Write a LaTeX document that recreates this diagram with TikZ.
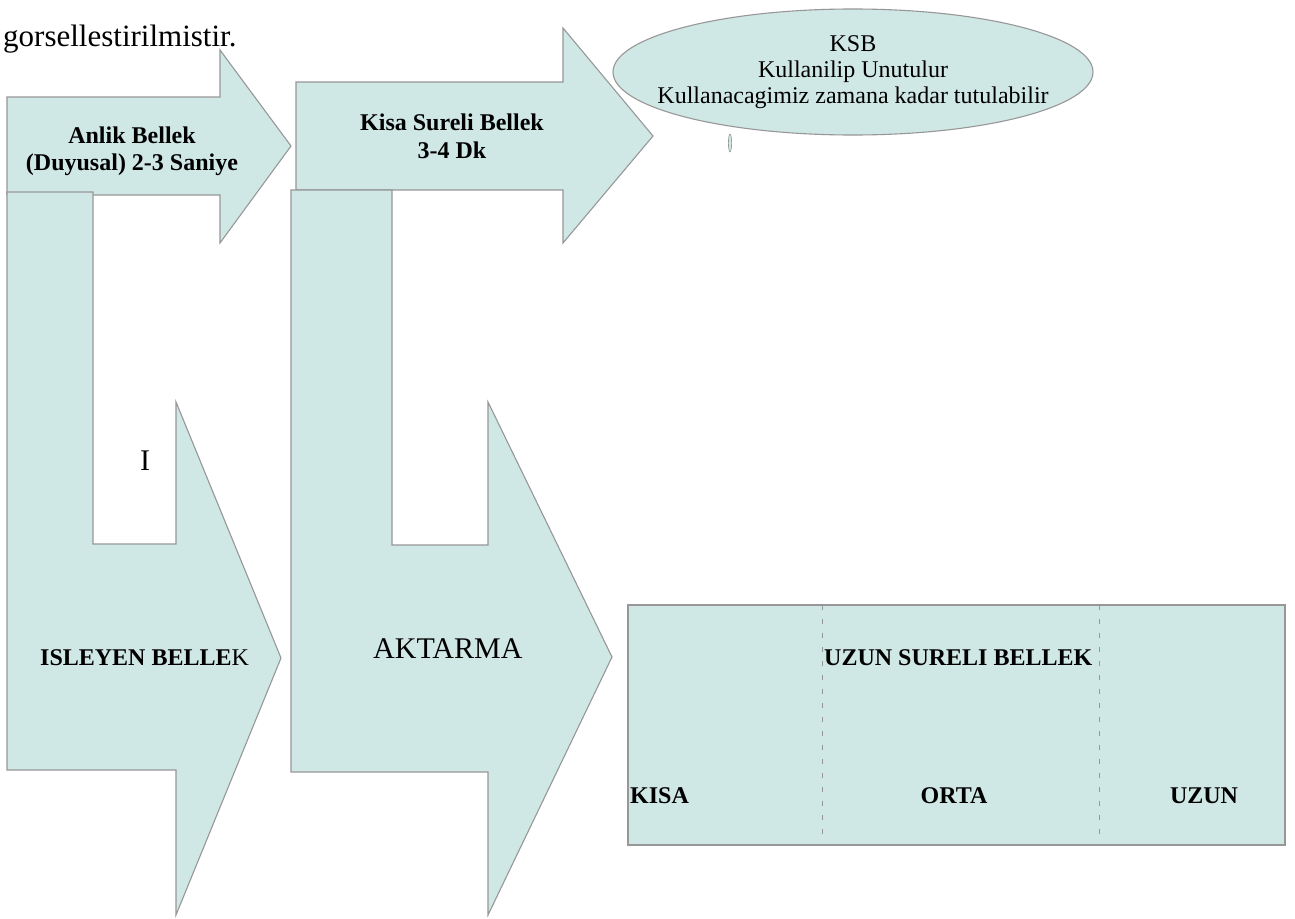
\documentclass[tikz,border=0pt]{standalone}
\usepackage{fontspec}
\setmainfont{Liberation Serif}
\definecolor{shapefill}{HTML}{D0E8E5}
\definecolor{shapeline}{HTML}{979797}
\begin{document}
\begin{tikzpicture}[x=1pt,y=-1pt,
  shapebox/.style={fill=shapefill,draw=shapeline,line width=1.1pt,line join=miter},
  divider/.style={draw=shapeline,line width=1pt,dash pattern=on 5pt off 9pt},
  txt/.style={inner sep=0pt,font=\fontsize{24}{28}\selectfont},
  btxt/.style={inner sep=0pt,font=\fontsize{24}{28}\selectfont\bfseries},
  bigtxt/.style={inner sep=0pt,font=\fontsize{30}{34}\selectfont}]
\useasboundingbox (0,0) rectangle (1295,918);
\fill[white] (0,0) rectangle (1295,918);

% first horizontal arrow
\path[shapebox] (7,97) -- (220,97) -- (220,50) -- (291,146) -- (220,243) -- (220,195) -- (7,195) -- cycle;
% first bent arrow
\path[shapebox] (7,192) -- (93,192) -- (93,544) -- (176,544) -- (176,402) -- (281,658) -- (176,915) -- (176,770) -- (7,770) -- cycle;
% second horizontal arrow
\path[shapebox] (296,82) -- (563,82) -- (563,28) -- (653,136) -- (563,243) -- (563,190) -- (296,190) -- cycle;
% second bent arrow
\path[shapebox] (291,190) -- (392,190) -- (392,545) -- (488,545) -- (488,402) -- (612,657) -- (488,915) -- (488,772) -- (291,772) -- cycle;
% ellipse
\path[shapebox] (853,72) ellipse [x radius=240, y radius=63];
\path[shapebox,line width=0.6pt] (730,143) ellipse [x radius=1.6, y radius=9];
% long-term memory box
\path[shapebox] (628,605) rectangle (1285,845);
\path[divider] (822,605) -- (822,840);
\path[divider] (1099,605) -- (1099,840);

% texts
\node[inner sep=0pt,font=\fontsize{31}{36}\selectfont,anchor=base west] (title) at (3,46) {gorsellestirilmistir.};
\node[btxt,anchor=base] (a1l1) at (132,143) {Anlik Bellek};
\node[btxt,anchor=base] (a1l2) at (132,170) {(Duyusal) 2-3 Saniye};
\node[btxt,anchor=base] (a2l1) at (452,130) {Kisa Sureli Bellek};
\node[btxt,anchor=base] (a2l2) at (452,158) {3-4 Dk};
\node[txt,anchor=base] (e1) at (853,51) {KSB};
\node[txt,anchor=base] (e2) at (853,77) {Kullanilip Unutulur};
\node[txt,anchor=base] (e3) at (853,103) {Kullanacagimiz zamana kadar tutulabilir};
\node[bigtxt,anchor=base west] (iletter) at (140,470) {I};
\node[btxt,anchor=base west] (isleyen) at (40,665) {ISLEYEN BELLE\mdseries K};
\node[bigtxt,anchor=base west] (aktarma) at (373,658) {AKTARMA};
\node[btxt,anchor=base west] (usb) at (824,665) {UZUN SURELI BELLEK};
\node[btxt,anchor=base west] (kisa) at (630,803) {KISA};
\node[btxt,anchor=base] (orta) at (954,803) {ORTA};
\node[btxt,anchor=base] (uzun) at (1204,803) {UZUN};
\end{tikzpicture}
\end{document}
